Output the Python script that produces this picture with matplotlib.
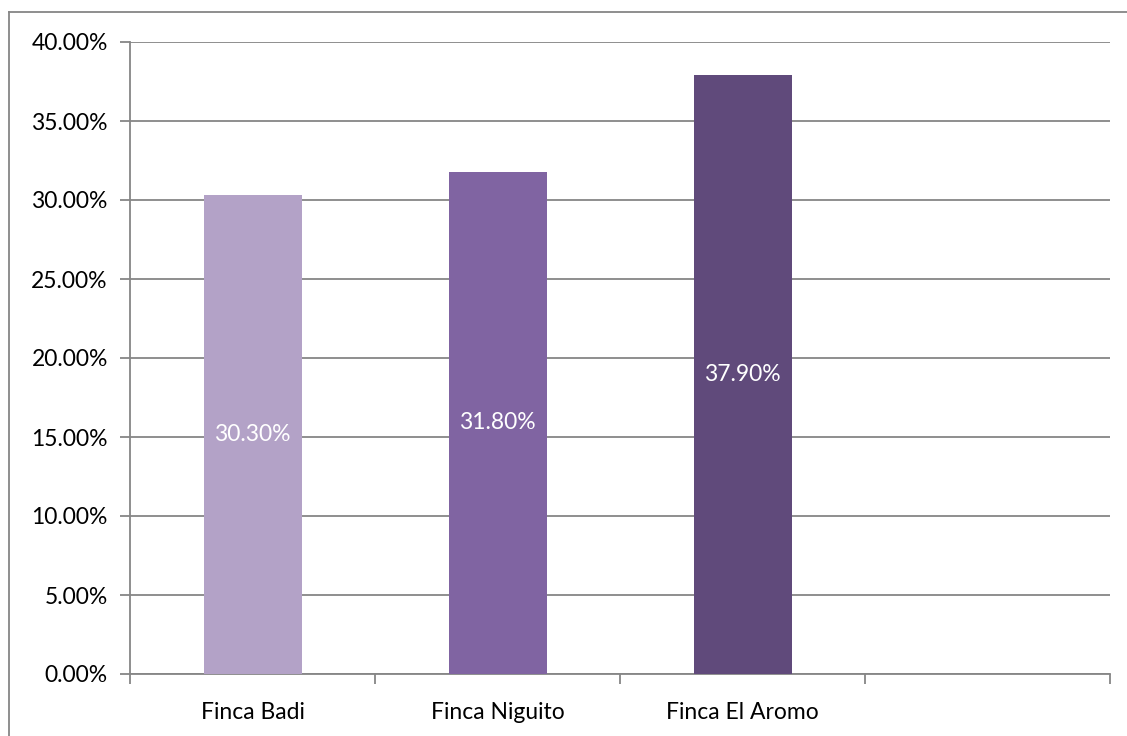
import matplotlib.pyplot as plt
from matplotlib.lines import Line2D
from matplotlib.ticker import FuncFormatter, FixedLocator

# Datos
fincas = ["Finca Badi", "Finca Niguito", "Finca El Aromo"]
porcentajes = [30.30, 31.80, 37.90]
colores = ["#B3A2C7", "#8064A2", "#604A7B"]

plt.rcParams['font.family'] = ['Lato', 'DejaVu Sans']

fig = plt.figure(figsize=(11.27, 7.36), dpi=100)
ax = fig.add_axes([130 / 1127, 1 - 674 / 736, 980 / 1127, 632 / 736])

gris = "#868686"
posiciones = list(range(len(fincas)))
barras = ax.bar(posiciones, porcentajes, width=0.4, color=colores, zorder=3)

# Etiquetas de valor dentro de las barras
for x, v in zip(posiciones, porcentajes):
    ax.text(x, v / 2, f"{v:.2f}%", ha="center", va="center",
            color="white", fontsize=16.5, zorder=4)

ax.set_xlim(-0.5, 3.5)
ax.set_ylim(0, 40)
ax.set_yticks(range(0, 41, 5))
ax.yaxis.set_major_formatter(FuncFormatter(lambda v, p: f"{v:.2f}%"))
ax.grid(axis="y", color=gris, linewidth=1.3, zorder=0)

# Marcas entre categorías, nombres centrados bajo las barras
ax.xaxis.set_major_locator(FixedLocator([-0.5, 0.5, 1.5, 2.5, 3.5]))
ax.xaxis.set_major_formatter(FuncFormatter(lambda v, p: ""))
ax.set_xticks(posiciones, minor=True)
ax.set_xticklabels(fincas, minor=True)
ax.tick_params(axis="x", which="minor", length=0, pad=20, labelsize=16.5)
ax.tick_params(axis="x", which="major", length=7, width=1.3, color=gris, direction="out")
ax.tick_params(axis="y", length=7, width=1.3, color=gris, labelsize=16.5, pad=9)

for lado in ["top", "right"]:
    ax.spines[lado].set_visible(False)
for lado in ["left", "bottom"]:
    ax.spines[lado].set_color(gris)
    ax.spines[lado].set_linewidth(1.3)

# Borde exterior del gráfico
fig.add_artist(Line2D([9 / 1127, 9 / 1127], [0, 1 - 12 / 736],
                      color=gris, linewidth=1.3, transform=fig.transFigure))
fig.add_artist(Line2D([9 / 1127, 1], [1 - 12 / 736, 1 - 12 / 736],
                      color=gris, linewidth=1.3, transform=fig.transFigure))

plt.savefig("out.png", dpi=100)
